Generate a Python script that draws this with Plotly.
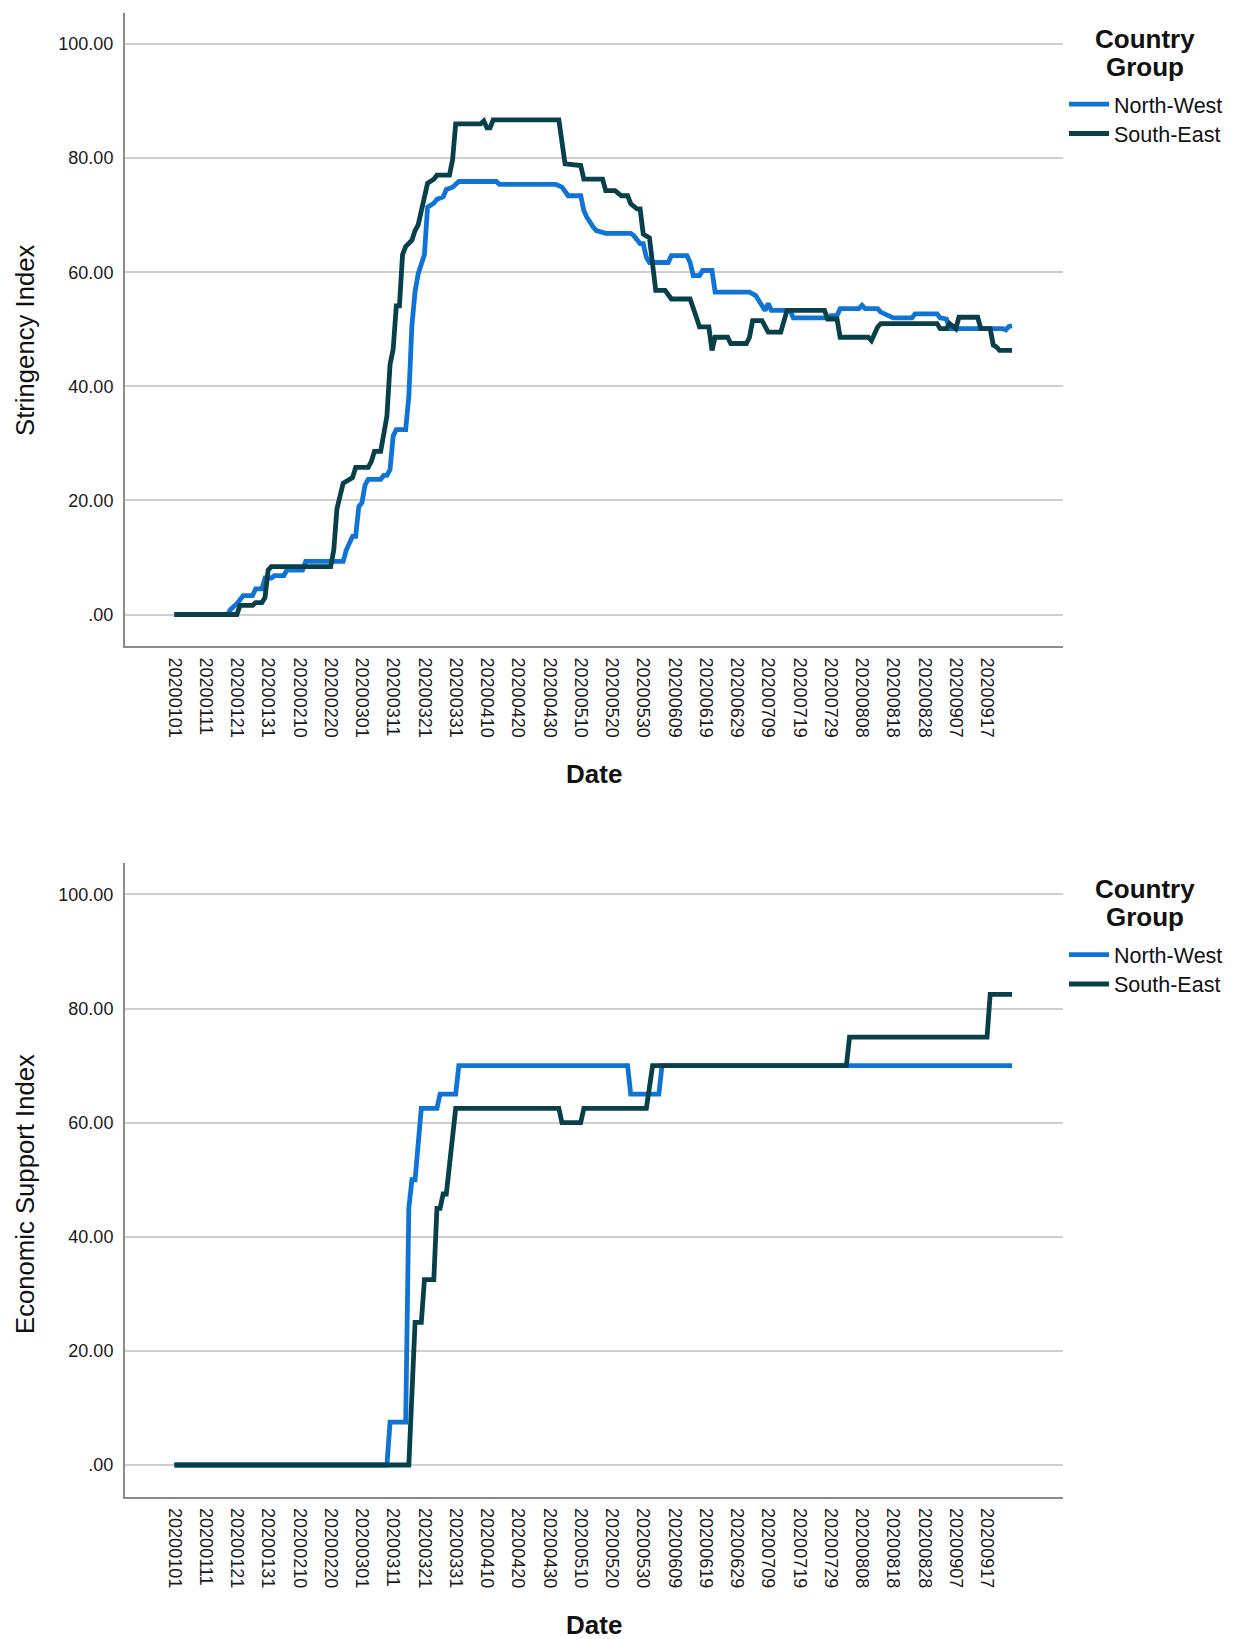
import pandas as pd
import plotly.graph_objects as go

# ---------------- data ----------------
tick_labels = ["20200101", "20200111", "20200121", "20200131", "20200210", "20200220",
               "20200301", "20200311", "20200321", "20200331", "20200410", "20200420",
               "20200430", "20200510", "20200520", "20200530", "20200609", "20200619",
               "20200629", "20200709", "20200719", "20200729", "20200808", "20200818",
               "20200828", "20200907", "20200917"]
y_tick_vals = [0, 20, 40, 60, 80, 100]
y_tick_text = [".00", "20.00", "40.00", "60.00", "80.00", "100.00"]

series_names = ["North-West", "South-East"]

# Stringency Index (breakpoints of the daily series)
si_nw_dates = ["20200101", "20200118", "20200119", "20200121", "20200123", "20200126", "20200127",
               "20200129", "20200130", "20200201", "20200202", "20200205", "20200206", "20200211",
               "20200212", "20200224", "20200225", "20200227", "20200228", "20200229", "20200301",
               "20200302", "20200303", "20200307", "20200308", "20200309", "20200310", "20200311",
               "20200312", "20200315", "20200316", "20200317", "20200318", "20200319", "20200321",
               "20200322", "20200324", "20200325", "20200327", "20200328", "20200330", "20200401",
               "20200413", "20200414", "20200502", "20200504", "20200506", "20200510", "20200511",
               "20200512", "20200514", "20200515", "20200518", "20200526", "20200527", "20200529",
               "20200530", "20200531", "20200601", "20200607", "20200608", "20200613", "20200614",
               "20200615", "20200617", "20200618", "20200621", "20200622", "20200703", "20200705",
               "20200706", "20200708", "20200709", "20200710", "20200716", "20200717", "20200728",
               "20200729", "20200731", "20200801", "20200807", "20200808", "20200809", "20200813",
               "20200814", "20200816", "20200818", "20200824", "20200825", "20200901", "20200902",
               "20200904", "20200905", "20200922", "20200923", "20200924", "20200925"]
si_nw_vals = [0, 0, 0.9, 1.9, 3.3, 3.3, 4.5,
              4.5, 6.4, 6.4, 6.8, 6.8, 7.8, 7.8,
              9.3, 9.3, 11.3, 13.7, 13.7, 18.9, 19.6,
              22.7, 23.7, 23.7, 24.4, 24.4, 25.4, 31.3,
              32.4, 32.4, 38.2, 50.7, 56.6, 59.7, 63.1,
              71.4, 72.1, 72.8, 73.2, 74.5, 74.9, 75.9,
              75.9, 75.4, 75.4, 74.9, 73.4, 73.4, 70.8,
              69.6, 67.9, 67.3, 66.8, 66.8, 66.4, 65.0,
              65.0, 62.6, 61.7, 61.7, 62.9, 62.9, 61.7,
              59.4, 59.4, 60.3, 60.3, 56.5, 56.5, 55.9,
              55.0, 53.3, 54.5, 53.3, 53.3, 52.0, 52.0,
              52.4, 52.4, 53.6, 53.6, 54.2, 53.6, 53.6,
              53.0, 52.4, 52.0, 52.0, 52.7, 52.7, 52.0,
              51.8, 50.1, 50.1, 49.9, 50.5, 50.6]

si_se_dates = ["20200101", "20200121", "20200122", "20200126", "20200127", "20200129", "20200130",
               "20200131", "20200201", "20200220", "20200221", "20200222", "20200224", "20200227",
               "20200228", "20200303", "20200304", "20200305", "20200307", "20200308", "20200309",
               "20200310", "20200311", "20200312", "20200313", "20200314", "20200315", "20200317",
               "20200318", "20200319", "20200320", "20200321", "20200322", "20200324", "20200325",
               "20200329", "20200330", "20200331", "20200408", "20200409", "20200410", "20200411",
               "20200412", "20200503", "20200505", "20200510", "20200511", "20200517", "20200518",
               "20200521", "20200523", "20200525", "20200526", "20200528", "20200529", "20200530",
               "20200601", "20200603", "20200606", "20200608", "20200614", "20200616", "20200617",
               "20200620", "20200621", "20200622", "20200626", "20200627", "20200702", "20200703",
               "20200704", "20200707", "20200709", "20200713", "20200714", "20200715", "20200727",
               "20200728", "20200731", "20200801", "20200810", "20200811", "20200813", "20200814",
               "20200901", "20200902", "20200904", "20200905", "20200907", "20200908", "20200914",
               "20200915", "20200918", "20200919", "20200920", "20200921", "20200925"]
si_se_vals = [0, 0, 1.6, 1.6, 2.1, 2.1, 3.0,
              7.8, 8.4, 8.4, 11.3, 18.5, 23.0, 24.0,
              25.8, 25.8, 26.8, 28.6, 28.6, 31.3, 34.8,
              43.8, 46.5, 54.1, 54.1, 63.1, 64.5, 65.6,
              67.3, 68.3, 70.7, 72.8, 75.6, 76.3, 77.0,
              77.0, 79.7, 86.0, 86.0, 86.5, 85.3, 85.3,
              86.7, 86.7, 79.0, 78.7, 76.3, 76.3, 74.3,
              74.3, 73.4, 73.4, 72.0, 71.1, 71.1, 66.7,
              66.0, 56.8, 56.8, 55.3, 55.3, 52.1, 50.4,
              50.4, 46.3, 48.6, 48.6, 47.5, 47.5, 48.6,
              51.5, 51.5, 49.5, 49.5, 51.5, 53.3, 53.3,
              51.8, 51.8, 48.6, 48.6, 48.0, 50.4, 51.0,
              51.0, 50.1, 50.1, 51.0, 50.1, 52.1, 52.1,
              50.1, 50.1, 47.2, 46.9, 46.3, 46.3]

# Economic Support Index
es_nw_dates = ["20200101", "20200309", "20200310", "20200315", "20200316", "20200317", "20200318",
               "20200320", "20200325", "20200326", "20200331", "20200401", "20200525", "20200526",
               "20200604", "20200605", "20200925"]
es_nw_vals = [0, 0, 7.5, 7.5, 45, 50, 50,
              62.5, 62.5, 65, 65, 70, 70, 65,
              65, 70, 70]

es_se_dates = ["20200101", "20200316", "20200318", "20200320", "20200321", "20200324", "20200325",
               "20200326", "20200327", "20200328", "20200331", "20200503", "20200504", "20200510",
               "20200511", "20200531", "20200602", "20200803", "20200804", "20200917", "20200918",
               "20200925"]
es_se_vals = [0, 0, 25, 25, 32.5, 32.5, 45,
              45, 47.5, 47.5, 62.5, 62.5, 60, 60,
              62.5, 62.5, 70, 70, 75, 75, 82.5,
              82.5]

# ---------------- styling ----------------
W, H = 1235, 1639
FONT = "Liberation Sans, Arial, sans-serif"
C_NW = "#0f74d6"
C_SE = "#073f4b"
GRID = "#cfcfcf"
AXIS = "#8c8c8c"


def px_x(p):
    return p / W


def px_y(p):
    return 1 - p / H


def to_dt(lst):
    return pd.to_datetime(lst, format="%Y%m%d")


fig = go.Figure()

panels = [
    dict(xa="x", ya="y", legs=["legend", "legend2"],
         data=[(si_nw_dates, si_nw_vals), (si_se_dates, si_se_vals)]),
    dict(xa="x2", ya="y2", legs=["legend3", "legend4"],
         data=[(es_nw_dates, es_nw_vals), (es_se_dates, es_se_vals)]),
]
colors = [C_NW, C_SE]
for p in panels:
    for (d, v), name, col, leg in zip(p["data"], series_names, colors, p["legs"]):
        fig.add_trace(go.Scatter(
            x=to_dt(d), y=v, mode="lines", name=name,
            line=dict(color=col, width=4.8),
            xaxis=p["xa"], yaxis=p["ya"], legend=leg, showlegend=True,
            hoverinfo="skip",
        ))

x_range = ["2019-12-16 04:48", "2020-10-11 07:12"]
xdom = [px_x(125), px_x(1063)]

common_x = dict(
    type="date", range=x_range, domain=xdom,
    tickmode="array", tickvals=to_dt(tick_labels), ticktext=tick_labels,
    tickangle=90, tickfont=dict(family=FONT, size=18, color="#1a1a1a"),
    showgrid=False, zeroline=False,
    showline=True, linecolor=AXIS, linewidth=2,
    ticks="outside", ticklen=6, tickcolor="rgba(0,0,0,0)",
    fixedrange=True,
)
common_y = dict(
    range=[-5.52, 105.52],
    tickmode="array", tickvals=y_tick_vals, ticktext=y_tick_text,
    tickfont=dict(family=FONT, size=18, color="#1a1a1a"),
    showgrid=True, gridcolor=GRID, gridwidth=2,
    zeroline=False,
    showline=True, linecolor=AXIS, linewidth=2,
    ticks="outside", ticklen=6, tickcolor="rgba(0,0,0,0)",
    fixedrange=True,
)


def leg(ytop):
    return dict(x=px_x(1064), y=px_y(ytop), xanchor="left", yanchor="top",
                font=dict(family=FONT, size=21.5, color="#111111"),
                itemwidth=40, bgcolor="rgba(0,0,0,0)")


fig.update_layout(
    width=W, height=H,
    margin=dict(l=0, r=0, t=0, b=0),
    paper_bgcolor="white", plot_bgcolor="white",
    font=dict(family=FONT, color="#111111"),
    xaxis=dict(common_x, anchor="y"),
    yaxis=dict(common_y, anchor="x", domain=[px_y(646), px_y(12.5)]),
    xaxis2=dict(common_x, anchor="y2"),
    yaxis2=dict(common_y, anchor="x2", domain=[px_y(1496.5), px_y(863)]),
    legend=leg(83.7),
    legend2=leg(113.0),
    legend3=leg(934.2),
    legend4=leg(963.5),
)

annos = []
for off, ytitle, ycen in [(0, "Stringency Index", 341), (850.5, "Economic Support Index", 1194)]:
    annos.append(dict(text="Country", x=px_x(1145), y=px_y(38.5 + off), xref="paper", yref="paper",
                      showarrow=False, xanchor="center", yanchor="middle", borderpad=0,
                      font=dict(family=FONT, size=26, color="#111111", weight="bold")))
    annos.append(dict(text="Group", x=px_x(1145), y=px_y(66.5 + off), xref="paper", yref="paper",
                      showarrow=False, xanchor="center", yanchor="middle", borderpad=0,
                      font=dict(family=FONT, size=26, color="#111111", weight="bold")))
    annos.append(dict(text="Date", x=px_x(594), y=px_y(774 + off), xref="paper", yref="paper",
                      showarrow=False, xanchor="center", yanchor="middle",
                      font=dict(family=FONT, size=26, color="#111111", weight="bold")))
    annos.append(dict(text=ytitle, x=px_x(25), y=px_y(ycen), xref="paper", yref="paper",
                      showarrow=False, xanchor="center", yanchor="middle", textangle=-90,
                      font=dict(family=FONT, size=25.7, color="#111111")))
fig.update_layout(annotations=annos)

fig.write_html("out.html", config={"displayModeBar": False, "staticPlot": True},
               post_script="document.body.style.margin='0';document.body.style.overflow='hidden';")
